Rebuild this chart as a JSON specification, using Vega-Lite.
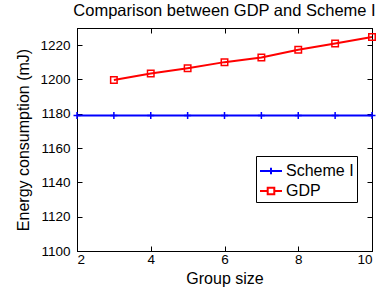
{
  "$schema": "https://vega.github.io/schema/vega-lite/v6.json",
  "width": 295,
  "height": 223,
  "autosize": "none",
  "padding": {"left": 77, "top": 28, "right": 8, "bottom": 41},
  "background": "white",
  "title": {"text": "Comparison between GDP and Scheme I", "font": "Liberation Sans", "fontSize": 16.5, "fontWeight": "normal", "color": "black", "anchor": "middle", "offset": 8},
  "data": {"values": [
    {"g": 2, "s": "Scheme I", "e": 1179},
    {"g": 3, "s": "Scheme I", "e": 1179},
    {"g": 4, "s": "Scheme I", "e": 1179},
    {"g": 5, "s": "Scheme I", "e": 1179},
    {"g": 6, "s": "Scheme I", "e": 1179},
    {"g": 7, "s": "Scheme I", "e": 1179},
    {"g": 8, "s": "Scheme I", "e": 1179},
    {"g": 9, "s": "Scheme I", "e": 1179},
    {"g": 10, "s": "Scheme I", "e": 1179},
    {"g": 3, "s": "GDP", "e": 1199.7},
    {"g": 4, "s": "GDP", "e": 1203.5},
    {"g": 5, "s": "GDP", "e": 1206.6},
    {"g": 6, "s": "GDP", "e": 1210.1},
    {"g": 7, "s": "GDP", "e": 1212.8},
    {"g": 8, "s": "GDP", "e": 1217.3},
    {"g": 9, "s": "GDP", "e": 1221.0},
    {"g": 10, "s": "GDP", "e": 1224.7}
  ]},
  "layer": [
    {
      "mark": {"type": "line", "strokeWidth": 2, "clip": false},
      "encoding": {
        "x": {"field": "g", "type": "quantitative", "scale": {"domain": [2, 10], "nice": false, "zero": false},
              "axis": {"orient": "bottom", "values": [2, 4, 6, 8, 10], "title": "Group size", "tickSize": -5, "labelPadding": 6, "titlePadding": 5}},
        "y": {"field": "e", "type": "quantitative", "scale": {"domain": [1100, 1230], "nice": false, "zero": false},
              "axis": {"orient": "left", "values": [1100, 1120, 1140, 1160, 1180, 1200, 1220], "format": "d", "title": "Energy consumption (mJ)", "tickSize": -5, "labelPadding": 12, "titlePadding": 8}},
        "color": {"field": "s", "type": "nominal", "scale": {"domain": ["Scheme I", "GDP"], "range": ["#0000ff", "#ff0000"]},
                  "legend": {"title": null, "orient": "none", "legendX": 179, "legendY": 128,
                             "strokeColor": "black", "fillColor": "white", "padding": 3,
                             "labelFont": "Liberation Sans", "labelFontSize": 16, "labelColor": "black", "labelOffset": 3,
                             "symbolSize": 484, "rowPadding": -6,
                             "encode": {"symbols": {"update": {
                               "shape": {"signal": "datum.value === 'GDP' ? 'M-1,0L-0.3,0M0.3,0L1,0M-0.3,-0.3L0.3,-0.3L0.3,0.3L-0.3,0.3Z' : 'M-1,0L1,0M0,-0.3L0,0.3'"},
                               "strokeWidth": {"value": 2},
                               "fill": {"value": "transparent"}
                             }}}}}
      }
    },
    {
      "transform": [{"filter": "datum.s === 'Scheme I'"}],
      "mark": {"type": "point", "shape": "M-1,0L1,0M0,-1L0,1", "filled": false, "strokeWidth": 1.5, "size": 49, "opacity": 1, "clip": false, "color": "#0000ff"},
      "encoding": {
        "x": {"field": "g", "type": "quantitative",
              "axis": {"orient": "top", "values": [2, 4, 6, 8, 10], "title": null, "labels": false, "tickSize": -5}},
        "y": {"field": "e", "type": "quantitative",
              "axis": {"orient": "right", "values": [1100, 1120, 1140, 1160, 1180, 1200, 1220], "title": null, "labels": false, "tickSize": -5}}
      }
    },
    {
      "transform": [{"filter": "datum.s === 'GDP'"}],
      "mark": {"type": "point", "shape": "square", "filled": false, "strokeWidth": 1.5, "size": 42, "opacity": 1, "clip": false, "color": "#ff0000"},
      "encoding": {
        "x": {"field": "g", "type": "quantitative", "axis": null},
        "y": {"field": "e", "type": "quantitative", "axis": null}
      }
    }
  ],
  "resolve": {"axis": {"x": "independent", "y": "independent"}},
  "config": {
    "view": {"stroke": "black", "strokeWidth": 1},
    "axis": {"grid": false, "domainColor": "black", "tickColor": "black", "labelColor": "black", "titleColor": "black",
             "labelFont": "Liberation Sans", "titleFont": "Liberation Sans", "labelFontSize": 13.5, "titleFontSize": 16,
             "titleFontWeight": "normal", "domainWidth": 1, "tickWidth": 1}
  }
}
